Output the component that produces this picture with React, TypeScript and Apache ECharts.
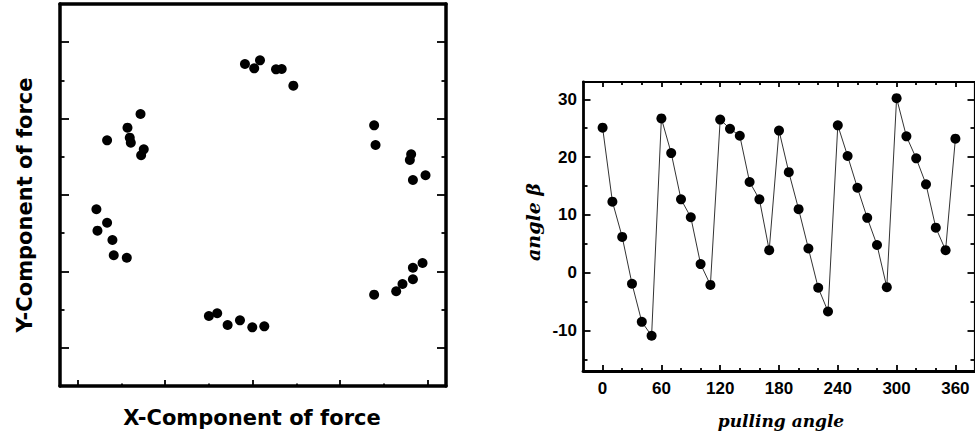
import React, { useEffect, useRef } from "react";
import * as echarts from "echarts";

// Left panel: force components (arbitrary units)
const forceX = [
  1.913, 2.019, 2.085, 2.268, 2.333, 2.466,
  0.338, 0.571, 0.597, 0.609, 0.72, 0.757, 0.727,
  0.216, 0.338, 0.228, 0.399, 0.414, 0.563,
  1.501, 1.596, 1.715, 1.856, 1.997, 2.134,
  3.389, 3.641, 3.713, 3.832, 3.832, 3.942,
  3.389, 3.405, 3.812, 3.797, 3.832, 3.976,
];
const forceY = [
  3.715, 3.658, 3.763, 3.645, 3.649, 3.431,
  2.716, 2.881, 2.75, 2.685, 3.06, 2.598, 2.52,
  1.813, 1.637, 1.533, 1.411, 1.211, 1.179,
  0.416, 0.452, 0.298, 0.36, 0.268, 0.281,
  0.695, 0.74, 0.835, 0.897, 1.048, 1.11,
  2.912, 2.654, 2.533, 2.458, 2.196, 2.258,
];

// Right panel
const pullingAngle = [
  0, 10, 20, 30, 40, 50, 60, 70, 80, 90, 100, 110, 120, 130, 140, 150, 160, 170,
  180, 190, 200, 210, 220, 230, 240, 250, 260, 270, 280, 290, 300, 310, 320, 330,
  340, 350, 360,
];
const angleBeta = [
  25.1, 12.3, 6.2, -1.9, -8.5, -10.9, 26.7, 20.7, 12.7, 9.6, 1.5, -2.1, 26.5, 24.9,
  23.7, 15.7, 12.7, 3.9, 24.6, 17.4, 11.0, 4.2, -2.6, -6.7, 25.5, 20.2, 14.7, 9.5,
  4.8, -2.5, 30.2, 23.6, 19.8, 15.3, 7.8, 3.9, 23.2,
];
const xMajorTicks = [0, 60, 120, 180, 240, 300, 360];
const xMinorTicks = [20, 40, 80, 100, 140, 160, 200, 220, 260, 280, 320, 340];
const yMajorTicks = [-10, 0, 10, 20, 30];
const yMinorTicks = [-15, -5, 5, 15, 25];
const fxMajor = [0, 1, 2, 3, 4];
const fxMinor = [0.5, 1.5, 2.5, 3.5];
const fyMajor = [0, 1, 2, 3, 4];
const fyMinor = [0.5, 1.5, 2.5, 3.5];

const labelFont = {
  fontFamily: "Liberation Sans",
  fontWeight: "bold" as const,
  fontSize: 17,
  color: "#000",
};

function axis(
  gridIndex: number,
  position: string,
  min: number,
  max: number,
  ticks: number[],
  tickLen: number,
  opts: { line?: number; labels?: boolean; margin?: number } = {}
) {
  return {
    type: "value",
    gridIndex,
    position,
    min,
    max,
    axisLine: {
      show: !!opts.line,
      onZero: false,
      lineStyle: { color: "#000", width: opts.line || 1 },
    },
    axisTick: {
      show: ticks.length > 0,
      inside: true,
      length: tickLen,
      lineStyle: { color: "#000", width: 1.8 },
      customValues: ticks,
    },
    axisLabel: opts.labels
      ? { show: true, customValues: ticks, margin: opts.margin ?? 8, ...labelFont }
      : { show: false },
    splitLine: { show: false },
  };
}

export default function App() {
  const ref = useRef<HTMLDivElement>(null);
  useEffect(() => {
    if (!ref.current) return;
    const chart = echarts.init(ref.current, null, { renderer: "svg" });
    const forceData = forceX.map((x, i) => [x, forceY[i]]);
    const betaData = pullingAngle.map((a, i) => [a, angleBeta[i]]);
    chart.setOption({
      animation: false,
      backgroundColor: "#fff",
      grid: [
        { left: 60, top: 4, width: 386, height: 382 },
        { left: 583, top: 82, width: 395, height: 289 },
      ],
      xAxis: [
        axis(0, "bottom", -0.2, 4.21, fxMajor, 6, { line: 3.5 }),
        axis(0, "bottom", -0.2, 4.21, fxMinor, 2.5),
        axis(0, "top", -0.2, 4.21, [], 0, { line: 3.5 }),
        axis(1, "bottom", -20, 380, xMajorTicks, 6, { line: 2.8, labels: true, margin: 9 }),
        axis(1, "bottom", -20, 380, xMinorTicks, 3),
        axis(1, "top", -20, 380, xMajorTicks, 5, { line: 2.2 }),
        axis(1, "top", -20, 380, xMinorTicks, 3),
      ],
      yAxis: [
        axis(0, "left", -0.5, 4.5, fyMajor, 9, { line: 3.5 }),
        axis(0, "left", -0.5, 4.5, fyMinor, 4.5),
        axis(0, "right", -0.5, 4.5, fyMajor, 9, { line: 3.5 }),
        axis(0, "right", -0.5, 4.5, fyMinor, 4.5),
        axis(1, "left", -17, 33, yMajorTicks, 7.5, { line: 2.8, labels: true, margin: 6 }),
        axis(1, "left", -17, 33, yMinorTicks, 4.5),
        axis(1, "right", -17, 33, yMajorTicks, 7.5, { line: 2.2 }),
        axis(1, "right", -17, 33, yMinorTicks, 4.5),
      ],
      series: [
        {
          type: "scatter",
          xAxisIndex: 0,
          yAxisIndex: 0,
          data: forceData,
          symbol: "circle",
          symbolSize: 10,
          itemStyle: { color: "#000", opacity: 1 },
        },
        {
          type: "line",
          xAxisIndex: 3,
          yAxisIndex: 4,
          data: betaData,
          symbol: "circle",
          symbolSize: 10,
          showSymbol: true,
          lineStyle: { color: "#333", width: 1 },
          itemStyle: { color: "#000", opacity: 1 },
        },
      ],
      graphic: [
        {
          type: "text",
          x: 25,
          y: 205,
          rotation: Math.PI / 2,
          style: {
            text: "Y-Component of force",
            font: 'bold 21px "DejaVu Sans"',
            fill: "#000",
            align: "center",
            verticalAlign: "middle",
          },
        },
        {
          type: "text",
          x: 252,
          y: 418,
          style: {
            text: "X-Component of force",
            font: 'bold 21px "DejaVu Sans"',
            fill: "#000",
            align: "center",
            verticalAlign: "middle",
          },
        },
        {
          type: "text",
          x: 533,
          y: 222,
          rotation: Math.PI / 2,
          style: {
            text: "angle β",
            font: 'italic bold 19px "DejaVu Serif"',
            fill: "#000",
            align: "center",
            verticalAlign: "middle",
          },
        },
        {
          type: "text",
          x: 781,
          y: 421,
          style: {
            text: "pulling angle",
            font: 'italic bold 17px "DejaVu Serif"',
            fill: "#000",
            align: "center",
            verticalAlign: "middle",
          },
        },
      ],
    });
    return () => chart.dispose();
  }, []);
  return (
    <div
      ref={ref}
      style={{ position: "fixed", left: 0, top: 0, width: 975, height: 437 }}
    />
  );
}
